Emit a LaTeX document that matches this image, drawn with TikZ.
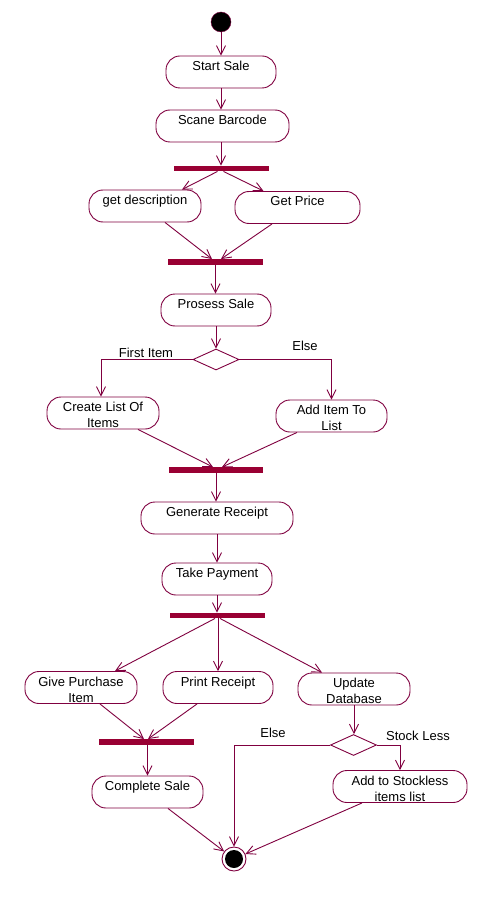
\documentclass[tikz,border=0pt]{standalone}
\usepackage{fontspec}
\setmainfont{Liberation Sans}
\usetikzlibrary{arrows.meta,shapes.geometric,calc}
\definecolor{ln}{RGB}{128,0,64}
\definecolor{barc}{RGB}{153,0,51}
\newcommand{\twoln}[2]{\begin{tabular}[t]{@{}c@{}}#1\\#2\end{tabular}}
\begin{document}
\begin{tikzpicture}[x=1pt,y=-1pt,
  every node/.style={font=\fontsize{13}{16}\selectfont},
  act/.style={draw=ln, line width=0.9pt, rectangle, rounded corners=14pt,
    minimum height=32pt, inner xsep=0pt, inner ysep=0pt,
    text height=14.5pt, text depth=17.5pt},
  bar/.style={fill=barc, draw=none, rectangle, inner sep=0pt, minimum height=5.5pt},
  dec/.style={draw=ln, line width=0.9pt, diamond, inner sep=0pt,
    minimum width=46pt, minimum height=21pt},
  ini/.style={circle, fill=black, draw=ln, inner sep=0pt, minimum size=20pt},
  fin/.style={circle, draw=ln, line width=0.9pt, inner sep=0pt, minimum size=24pt},
  lbl/.style={inner sep=0pt},
  arr/.style={draw=ln, line width=0.9pt, -{Straight Barb[length=9pt,width=9pt]}}
]
\fill[white] (0,0) rectangle (481,917);
\useasboundingbox (0,0) rectangle (481,917);

% nodes
\node[ini] (init) at (221,22) {};
\node[act, minimum width=110pt] (start) at (221,72) {Start Sale};
\node[act, minimum width=133pt] (scan) at (222.5,126) {Scane Barcode};
\node[bar, minimum width=95pt] (bar1) at (221.5,168.5) {};
\node[act, minimum width=112pt] (getdesc) at (145,206) {get description};
\node[act, minimum width=125pt] (getprice) at (297.5,207.5) {Get Price};
\node[bar, minimum width=95pt] (bar2) at (215.5,262) {};
\node[act, minimum width=110pt] (prosess) at (216,310) {Prosess Sale};
\node[dec] (d1) at (216,359.5) {};
\node[act, minimum width=112pt] (createlist) at (103,413) {\twoln{Create List Of}{Items}};
\node[act, minimum width=111pt] (additem) at (331.5,416) {\twoln{Add Item To}{List}};
\node[bar, minimum width=94pt] (bar3) at (216,470) {};
\node[act, minimum width=152pt] (genrec) at (217,518) {Generate Receipt};
\node[act, minimum width=110pt] (takepay) at (217,579) {Take Payment};
\node[bar, minimum width=95pt] (bar4) at (217.5,615.5) {};
\node[act, minimum width=112pt] (givepurch) at (81,687.5) {\twoln{Give Purchase}{Item}};
\node[act, minimum width=110pt] (printrec) at (218,687.5) {Print Receipt};
\node[act, minimum width=112pt] (update) at (354,689) {\twoln{Update}{Database}};
\node[bar, minimum width=95pt] (bar5) at (146.5,742) {};
\node[dec] (d2) at (353.5,745) {};
\node[act, minimum width=111pt] (complete) at (147.5,792) {Complete Sale};
\node[act, minimum width=134pt] (addstock) at (400,786.5) {\twoln{Add to Stockless}{items list}};
\node[fin] (final) at (234,859) {};
\fill[black] (final.center) circle (9pt);

% labels
\node[lbl] (lfirst) at (146,353) {First Item};
\node[lbl] (lelse1) at (305,346) {Else};
\node[lbl] (lelse2) at (273,733) {Else};
\node[lbl] (lstock) at (418,736) {Stock Less};

% connectors
\draw[arr] (init) -- (start);
\draw[arr] (start.south) -- (start.south |- scan.north);
\draw[arr] ([xshift=-1.5pt]scan.south) -- ([xshift=-1.5pt]scan.south |- bar1.north);
\draw[arr] ([xshift=-4pt]bar1.south) -- ([xshift=37pt]getdesc.north);
\draw[arr] ([xshift=2pt]bar1.south) -- ([xshift=-34pt]getprice.north);
\draw[arr] ([xshift=20pt]getdesc.south) -- ([xshift=-3.5pt]bar2.north);
\draw[arr] ([xshift=-25.5pt]getprice.south) -- ([xshift=5.5pt]bar2.north);
\draw[arr] (bar2.south) -- (bar2.south |- prosess.north);
\draw[arr] (prosess.south) -- (d1.north);
\draw[arr] (d1.west) -| ([xshift=-2pt]createlist.north);
\draw[arr] (d1.east) -| (additem.north);
\draw[arr] ([xshift=35pt]createlist.south) -- ([xshift=-3pt]bar3.north);
\draw[arr] ([xshift=-34.5pt]additem.south) -- ([xshift=6pt]bar3.north);
\draw[arr] (bar3.south) -- (bar3.south |- genrec.north);
\draw[arr] (genrec.south) -- (takepay.north);
\draw[arr] (takepay.south) -- (takepay.south |- bar4.north);
\draw[arr] ([xshift=-2.5pt]bar4.south) -- ([xshift=34pt]givepurch.north);
\draw[arr] ([xshift=0.5pt]bar4.south) -- (printrec.north);
\draw[arr] ([xshift=2.5pt]bar4.south) -- ([xshift=-32pt]update.north);
\draw[arr] ([xshift=19pt]givepurch.south) -- ([xshift=-2.5pt]bar5.north);
\draw[arr] ([xshift=-21pt]printrec.south) -- ([xshift=1.5pt]bar5.north);
\draw[arr] ([xshift=1pt]bar5.south) -- ([xshift=1pt]bar5.south |- complete.north);
\draw[arr] (update.south) -- (update.south |- d2.north);
\draw[arr] (d2.west) -| (final.north);
\draw[arr] (d2.east) -| (addstock.north);
\draw[arr] ([xshift=20.5pt]complete.south) -- (final);
\draw[arr] ([xshift=-38pt]addstock.south) -- (final);
\end{tikzpicture}
\end{document}
